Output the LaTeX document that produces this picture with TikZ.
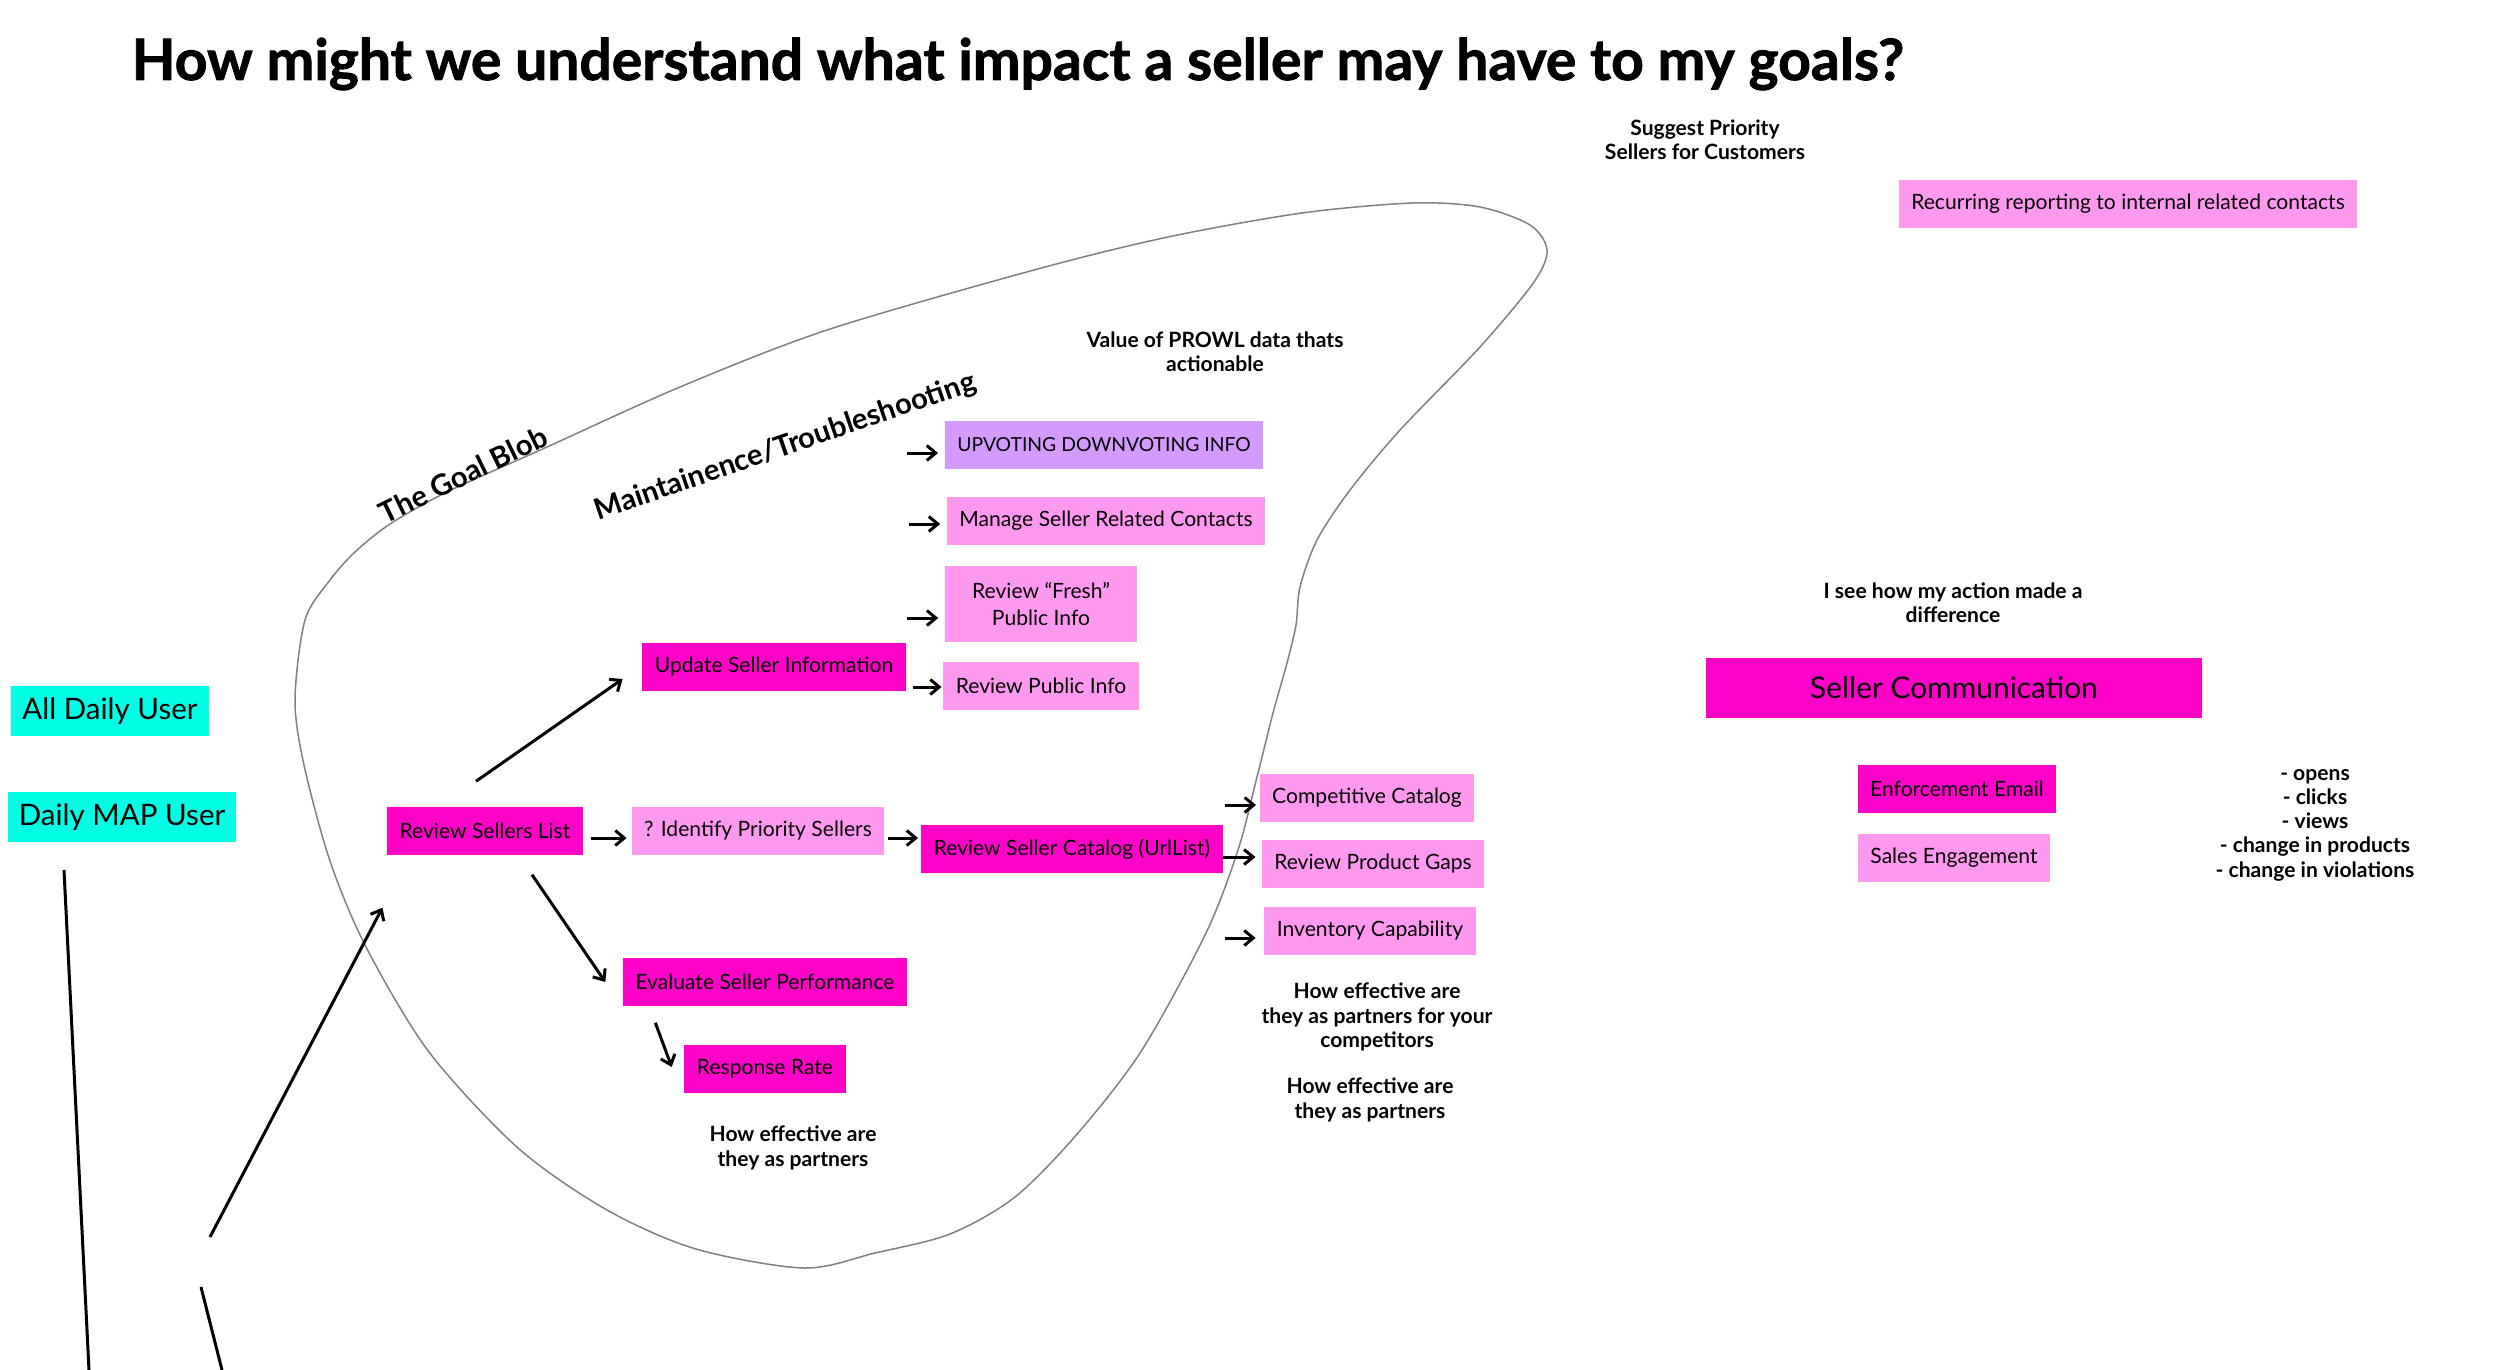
\documentclass[tikz,border=0pt]{standalone}
\usepackage{fontspec}
\setmainfont{Lato}
\newfontfamily\headfont{Lato}[BoldFeatures={FakeBold=1.5}]
\usetikzlibrary{arrows.meta}

\definecolor{hotpink}{HTML}{FF00C8}
\definecolor{palepink}{HTML}{FF99F0}
\definecolor{lilac}{HTML}{D49BFF}
\definecolor{aqua}{HTML}{00FFE5}

\begin{document}
\begin{tikzpicture}[x=0.01cm,y=-0.01cm,
  box/.style={inner xsep=1.25mm,inner ysep=0pt,minimum height=4.8mm,align=center,
    font=\fontsize{6}{7.7}\selectfont},
  hotbox/.style={box,fill=hotpink},
  palebox/.style={box,fill=palepink},
  lilacbox/.style={box,fill=lilac},
  userbox/.style={box,fill=aqua,inner xsep=1.1mm,minimum height=4.9mm,font=\fontsize{8.4}{9}\selectfont},
  note/.style={inner sep=0pt,align=center,font=\bfseries\fontsize{6}{6.9}\selectfont},
  slant/.style={inner sep=0pt,font=\bfseries\fontsize{8.3}{9}\selectfont},
  arr/.style={-{Straight Barb[length=0.9mm,width=1.5mm]},line width=0.3mm},
  wire/.style={line width=0.3mm}]

\useasboundingbox (0,0) rectangle (2500,1370);

% heading
\node[anchor=base west,inner sep=0pt,font=\headfont\bfseries\fontsize{16.2}{19}\selectfont] (title) at (131,80)
  {How might we understand what impact a seller may have to my goals?};

% the blob
\draw[gray,line width=0.15mm] plot[smooth cycle] coordinates {
  (295,700) (305,620) (330,580) (355,552) (390,524) (447,492) (547,447)
  (680,387) (827,330) (1034,270)
  (1168,237) (1302,213) (1413,203) (1480,207) (1530,225) (1547,250) (1534,282)
  (1480,347) (1400,430) (1350,490) (1317,540) (1300,587) (1296,625) (1287,663)
  (1273,713) (1257,777) (1238,850) (1206,933) (1142,1050) (1078,1133) (1015,1197)
  (950,1234) (875,1253) (804,1268) (696,1249) (607,1210) (518,1148) (429,1052)
  (366,947) (330,861) (304,765)};
\node[slant,rotate=26,anchor=base] (goal) at (468,484) {The Goal Blob};
\node[slant,rotate=19,anchor=base] (maint) at (788,455) {Maintainence/Troubleshooting};

% users
\node[userbox] (alldaily) at (110,711) {All Daily User};
\node[userbox] (dailymap) at (122,817) {Daily MAP User};

% flow
\node[hotbox] (rsl) at (485,831) {Review Sellers List};
\node[palebox] (ident) at (758,831) {? Identify Priority Sellers};
\node[hotbox] (catalog) at (1072,849) {Review Seller Catalog (UrlList)};
\node[hotbox] (update) at (774,667) {Update Seller Information};
\node[hotbox] (eval) at (765,982) {Evaluate Seller Performance};
\node[hotbox] (resp) at (765,1069) {Response Rate};

\node[lilacbox,font=\fontsize{5.5}{7}\selectfont,minimum width=31.8mm] (upvote) at (1104,445) {UPVOTING DOWNVOTING INFO};
\node[palebox] (manage) at (1106,521) {Manage Seller Related Contacts};
\node[palebox,minimum width=19.2mm,minimum height=7.5mm] (fresh) at (1041,604) {Review “Fresh”\\Public Info};
\node[palebox,minimum width=19.2mm] (rpub) at (1041,686) {Review Public Info};

\node[palebox] (comp) at (1367,798) {Competitive Catalog};
\node[palebox] (gaps) at (1373,864) {Review Product Gaps};
\node[palebox] (inv) at (1370,931) {Inventory Capability};

\node[palebox] (recur) at (2128,204) {Recurring reporting to internal related contacts};
\node[hotbox,minimum width=49.6mm,minimum height=5.9mm,font=\fontsize{8.5}{9}\selectfont] (sellcom) at (1954,688) {Seller Communication};
\node[hotbox] (enforce) at (1957,789) {Enforcement Email};
\node[palebox] (sales) at (1954,858) {Sales Engagement};

% notes
\node[note] (suggest) at (1705,140) {Suggest Priority\\Sellers for Customers};
\node[note] (prowl) at (1215,352) {Value of PROWL data thats\\actionable};
\node[note] (diff) at (1953,603) {I see how my action made a\\difference};
\node[note] (metrics) at (2315,825) {- opens\\- clicks\\- views\\- change in products\\- change in violations};
\node[note] (partA) at (793,1148) {How effective are\\they as partners};
\node[note] (partB) at (1377,1017) {How effective are\\they as partners for your\\competitors};
\node[note] (partC) at (1370,1100) {How effective are\\they as partners};

% arrows
\draw[arr] (rsl.north) ++(-9,-25) -- ([shift={(-19,12)}]update.west);
\draw[arr] (rsl.south) ++(47,19) -- ([shift={(-17,0)}]eval.west);
\draw[arr] (eval.south west) ++(33,16) -- ([shift={(-12,-2)}]resp.west);
\draw[arr] ([yshift=-0.7mm]rsl.east) ++(7,0) -- ++(36,0);
\draw[arr] ([yshift=-0.7mm]ident.east) ++(3,0) -- ++(30,0);
\draw[arr] ([yshift=-0.8mm]catalog.east) -- ++(32,0);
\draw[arr] ([yshift=-0.8mm]upvote.west) ++(-37,0) -- ++(31,0);
\draw[arr] ([yshift=-0.3mm]manage.west) ++(-37,0) -- ++(31,0);
\draw[arr] ([yshift=-1.4mm]fresh.west) ++(-37,0) -- ++(31,0);
\draw[arr] ([yshift=-0.1mm]rpub.west) ++(-30,0) -- ++(29,0);
\draw[arr] ([yshift=-0.7mm]comp.west) ++(-34,0) -- ++(31,0);
\draw[arr] ([yshift=-0.7mm]inv.west) ++(-39,0) -- ++(31,0);

% loose strokes, bottom left
\coordinate (lineTop) at (64,870);
\coordinate (lineEnd) at (89,1370);
\coordinate (upTail) at (210,1237);
\coordinate (stubTop) at (201,1287);
\coordinate (stubEnd) at (222,1370);
\draw[wire] (lineTop) -- (lineEnd);
\draw[wire] (stubTop) -- (stubEnd);
\draw[arr] (upTail) -- ([shift={(-4,52)}]rsl.south west);

\end{tikzpicture}
\end{document}
